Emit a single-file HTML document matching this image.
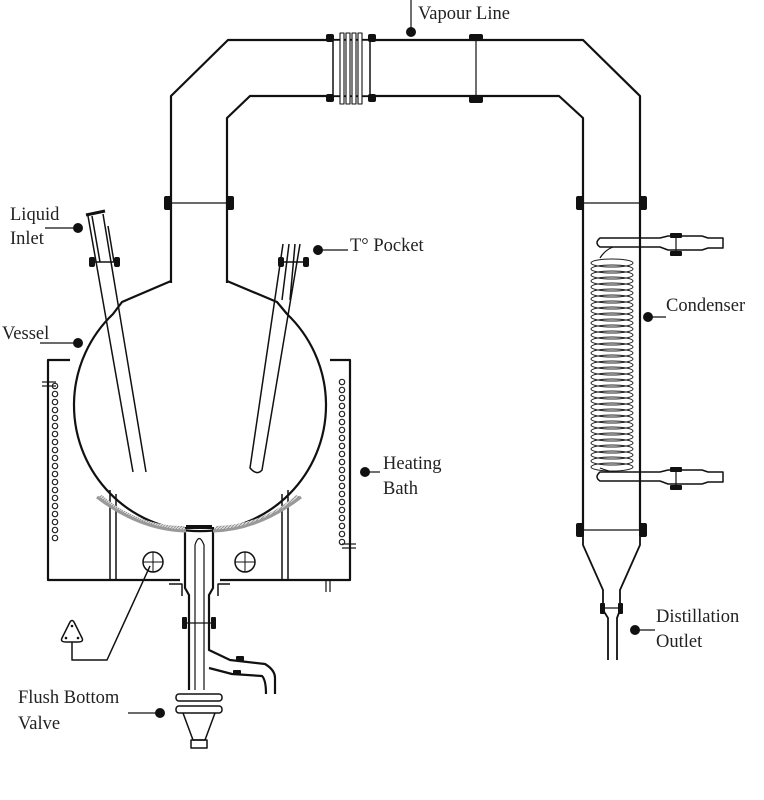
<!DOCTYPE html>
<html><head><meta charset="utf-8"><style>
html,body{margin:0;padding:0;background:#fff}
svg{display:block}
text{font-family:"Liberation Serif",serif;font-size:18.5px;fill:#222}
</style></head><body>
<svg width="764" height="800" viewBox="0 0 764 800" xmlns="http://www.w3.org/2000/svg">
<defs>
<pattern id="hatch" width="3" height="3" patternUnits="userSpaceOnUse"><rect width="3" height="3" fill="#ddd"/><path d="M0 3L3 0" stroke="#888" stroke-width="0.8"/></pattern>
</defs>
<g fill="none" stroke="#111" stroke-width="2.2" stroke-linejoin="round">
<path d="M171 283 V96 L228 40 H583 L640 96 V530"/>
<path d="M227 283 V118 L250 96 H559 L583 118 V530"/>
<line x1="171" y1="203" x2="227" y2="203" stroke-width="1.2"/>
<line x1="583" y1="203" x2="640" y2="203" stroke-width="1.2"/>
<line x1="476" y1="40" x2="476" y2="96" stroke-width="1.2"/>
<rect x="333" y="40" width="37" height="56" fill="#fff" stroke-width="1.5"/>
<g stroke-width="1.1" fill="#fff"><rect x="340" y="33" width="4" height="71"/><rect x="346" y="33" width="4" height="71"/><rect x="352" y="33" width="4" height="71"/><rect x="358" y="33" width="4" height="71"/></g>
<path d="M171 281 L122 302 L113 314 A126 126 0 1 0 287 314 L277 302 L227 281"/>
<g stroke-width="1.5">
<path d="M88 216 L133 472"/><path d="M103 214 L146 472"/>
<path d="M92 216 L100 262"/><path d="M108 226 L114 262"/>
<line x1="86" y1="215" x2="105" y2="211" stroke-width="3"/>
<line x1="92" y1="262" x2="117" y2="262"/>
<path d="M283 244 L250 468 Q257 476 262 470 L300 244"/>
<path d="M289 244 L282 300"/><path d="M295 244 L290 300"/>
<line x1="280" y1="262" x2="305" y2="262"/>
</g>
<path d="M70 360 H48 V580 H180"/>
<path d="M330 360 H350 V580 H220"/>
<line x1="42" y1="382" x2="56" y2="382" stroke-width="1.2"/>
<line x1="42" y1="386" x2="56" y2="386" stroke-width="1.2"/>
<line x1="342" y1="544" x2="356" y2="544" stroke-width="1.2"/>
<line x1="342" y1="548" x2="356" y2="548" stroke-width="1.2"/>
<line x1="110" y1="490" x2="110" y2="580" stroke-width="1.5"/><line x1="116" y1="494" x2="116" y2="580" stroke-width="1.5"/>
<line x1="282" y1="494" x2="282" y2="580" stroke-width="1.5"/><line x1="288" y1="490" x2="288" y2="580" stroke-width="1.5"/>
<path d="M169 584 H182 V596" stroke-width="1.5"/><path d="M230 584 H218 V596" stroke-width="1.5"/>
<path d="M326 580 V592 M330 580 V592" stroke-width="1.2"/>
<circle cx="153" cy="562" r="10" stroke-width="1.5"/><path d="M143 562H163M153 552V572" stroke-width="1"/>
<circle cx="245" cy="562" r="10" stroke-width="1.5"/><path d="M235 562H255M245 552V572" stroke-width="1"/>
<path d="M150 566 L107 660 H72 V642" stroke-width="1.5"/>
<path d="M62 638 Q60 642 66 642 H78 Q84 642 82 638 L74 622 Q72 619 70 622 Z" stroke-width="1.5"/>
<path d="M185 527 V588 L189 595 V690"/>
<path d="M213 527 V588 L209 595 V650 L230 660 L265 664 Q275 670 275 678 V694"/>
<path d="M209 668 L232 674 L262 676 Q266 680 266 694"/>
<path d="M195 690 V545 Q199 532 204 545 V690" stroke-width="1.2"/>
<line x1="185" y1="623" x2="213" y2="623" stroke-width="1.2"/>
<rect x="176" y="694" width="46" height="7" rx="3" stroke-width="1.5"/>
<rect x="176" y="706" width="46" height="7" rx="3" stroke-width="1.5"/>
<path d="M183 713 L193 740 H205 L215 713" stroke-width="1.5"/>
<rect x="191" y="740" width="16" height="8" stroke-width="1.5"/>
<path d="M583 530 V545 L603 590 V610 L608 618 V660 M640 530 V545 L620 590 V610 L617 618 V660" stroke-width="1.8"/>
<line x1="583" y1="530" x2="640" y2="530" stroke-width="1.2"/>
<line x1="603" y1="608" x2="620" y2="608" stroke-width="1.2"/>
<path d="M640 238 H660 L668 236 H702 L708 238 H723 V248 H708 L702 250 H668 L660 247 H600 Q594 243 600 238 H640" stroke-width="1.5"/>
<path d="M640 472 H660 L668 470 H702 L708 472 H723 V482 H708 L702 484 H668 L660 481 H600 Q594 477 600 472 H640" stroke-width="1.5"/>
<line x1="676" y1="234" x2="676" y2="252" stroke-width="1.2"/>
<line x1="676" y1="468" x2="676" y2="486" stroke-width="1.2"/>
<path d="M613 247 Q605 250 600 258 M613 472 Q605 470 600 468" stroke-width="1.2"/>
</g>
<path d="M97 497 A126 126 0 0 0 186 530 L184 526 A122 122 0 0 1 102 495 Z" fill="url(#hatch)"/>
<path d="M301 497 A126 126 0 0 1 214 530 L216 526 A122 122 0 0 0 296 495 Z" fill="url(#hatch)"/>
<path d="M97 497 Q140 530 186 531" fill="none" stroke="#999" stroke-width="3"/>
<path d="M301 497 Q258 530 213 531" fill="none" stroke="#999" stroke-width="3"/>
<g fill="none" stroke="#222" stroke-width="1.2">
<circle cx="55" cy="386" r="2.7"/><circle cx="55" cy="394" r="2.7"/><circle cx="55" cy="402" r="2.7"/><circle cx="55" cy="410" r="2.7"/><circle cx="55" cy="418" r="2.7"/><circle cx="55" cy="426" r="2.7"/><circle cx="55" cy="434" r="2.7"/><circle cx="55" cy="442" r="2.7"/><circle cx="55" cy="450" r="2.7"/><circle cx="55" cy="458" r="2.7"/><circle cx="55" cy="466" r="2.7"/><circle cx="55" cy="474" r="2.7"/><circle cx="55" cy="482" r="2.7"/><circle cx="55" cy="490" r="2.7"/><circle cx="55" cy="498" r="2.7"/><circle cx="55" cy="506" r="2.7"/><circle cx="55" cy="514" r="2.7"/><circle cx="55" cy="522" r="2.7"/><circle cx="55" cy="530" r="2.7"/><circle cx="55" cy="538" r="2.7"/>
<circle cx="342" cy="382" r="2.7"/><circle cx="342" cy="390" r="2.7"/><circle cx="342" cy="398" r="2.7"/><circle cx="342" cy="406" r="2.7"/><circle cx="342" cy="414" r="2.7"/><circle cx="342" cy="422" r="2.7"/><circle cx="342" cy="430" r="2.7"/><circle cx="342" cy="438" r="2.7"/><circle cx="342" cy="446" r="2.7"/><circle cx="342" cy="454" r="2.7"/><circle cx="342" cy="462" r="2.7"/><circle cx="342" cy="470" r="2.7"/><circle cx="342" cy="478" r="2.7"/><circle cx="342" cy="486" r="2.7"/><circle cx="342" cy="494" r="2.7"/><circle cx="342" cy="502" r="2.7"/><circle cx="342" cy="510" r="2.7"/><circle cx="342" cy="518" r="2.7"/><circle cx="342" cy="526" r="2.7"/><circle cx="342" cy="534" r="2.7"/><circle cx="342" cy="542" r="2.7"/>
</g>
<g fill="none" stroke="#222" stroke-width="1">
<ellipse cx="612" cy="263" rx="21" ry="4"/><ellipse cx="612" cy="269" rx="21" ry="4"/><ellipse cx="612" cy="275" rx="21" ry="4"/><ellipse cx="612" cy="281" rx="21" ry="4"/><ellipse cx="612" cy="287" rx="21" ry="4"/><ellipse cx="612" cy="293" rx="21" ry="4"/><ellipse cx="612" cy="299" rx="21" ry="4"/><ellipse cx="612" cy="305" rx="21" ry="4"/><ellipse cx="612" cy="311" rx="21" ry="4"/><ellipse cx="612" cy="317" rx="21" ry="4"/><ellipse cx="612" cy="323" rx="21" ry="4"/><ellipse cx="612" cy="329" rx="21" ry="4"/><ellipse cx="612" cy="335" rx="21" ry="4"/><ellipse cx="612" cy="341" rx="21" ry="4"/><ellipse cx="612" cy="347" rx="21" ry="4"/><ellipse cx="612" cy="353" rx="21" ry="4"/><ellipse cx="612" cy="359" rx="21" ry="4"/><ellipse cx="612" cy="365" rx="21" ry="4"/><ellipse cx="612" cy="371" rx="21" ry="4"/><ellipse cx="612" cy="377" rx="21" ry="4"/><ellipse cx="612" cy="383" rx="21" ry="4"/><ellipse cx="612" cy="389" rx="21" ry="4"/><ellipse cx="612" cy="395" rx="21" ry="4"/><ellipse cx="612" cy="401" rx="21" ry="4"/><ellipse cx="612" cy="407" rx="21" ry="4"/><ellipse cx="612" cy="413" rx="21" ry="4"/><ellipse cx="612" cy="419" rx="21" ry="4"/><ellipse cx="612" cy="425" rx="21" ry="4"/><ellipse cx="612" cy="431" rx="21" ry="4"/><ellipse cx="612" cy="437" rx="21" ry="4"/><ellipse cx="612" cy="443" rx="21" ry="4"/><ellipse cx="612" cy="449" rx="21" ry="4"/><ellipse cx="612" cy="455" rx="21" ry="4"/><ellipse cx="612" cy="461" rx="21" ry="4"/><ellipse cx="612" cy="467" rx="21" ry="4"/>
</g>
<g fill="#111">
<rect x="164" y="196" width="8" height="14" rx="2"/><rect x="226" y="196" width="8" height="14" rx="2"/>
<rect x="576" y="196" width="8" height="14" rx="2"/><rect x="639" y="196" width="8" height="14" rx="2"/>
<rect x="576" y="523" width="8" height="14" rx="2"/><rect x="639" y="523" width="8" height="14" rx="2"/>
<rect x="326" y="34" width="8" height="8" rx="2"/><rect x="326" y="94" width="8" height="8" rx="2"/>
<rect x="368" y="34" width="8" height="8" rx="2"/><rect x="368" y="94" width="8" height="8" rx="2"/>
<rect x="469" y="34" width="14" height="7" rx="2"/><rect x="469" y="96" width="14" height="7" rx="2"/>
<rect x="89" y="257" width="6" height="10" rx="2"/><rect x="114" y="257" width="6" height="10" rx="2"/>
<rect x="278" y="257" width="6" height="10" rx="2"/><rect x="303" y="257" width="6" height="10" rx="2"/>
<rect x="182" y="617" width="5" height="12" rx="1"/><rect x="211" y="617" width="5" height="12" rx="1"/>
<rect x="670" y="233" width="12" height="5" rx="1"/><rect x="670" y="251" width="12" height="5" rx="1"/>
<rect x="670" y="467" width="12" height="5" rx="1"/><rect x="670" y="485" width="12" height="5" rx="1"/>
<rect x="600" y="603" width="5" height="11" rx="1"/><rect x="618" y="603" width="5" height="11" rx="1"/>
<rect x="186" y="525" width="26" height="4"/>
<rect x="236" y="656" width="8" height="5" rx="1"/><rect x="233" y="670" width="8" height="5" rx="1"/>
<circle cx="411" cy="32" r="5"/><circle cx="78" cy="228" r="5"/><circle cx="318" cy="250" r="5"/>
<circle cx="78" cy="343" r="5"/><circle cx="365" cy="472" r="5"/><circle cx="648" cy="317" r="5"/>
<circle cx="635" cy="630" r="5"/><circle cx="160" cy="713" r="5"/>
<circle cx="66" cy="638" r="1.3"/><circle cx="78" cy="638" r="1.3"/><circle cx="72" cy="626" r="1.3"/>
</g>
<g stroke="#111" stroke-width="1.2">
<line x1="411" y1="0" x2="411" y2="32"/><line x1="45" y1="228" x2="78" y2="228"/>
<line x1="318" y1="250" x2="348" y2="250"/><line x1="40" y1="343" x2="78" y2="343"/>
<line x1="365" y1="472" x2="380" y2="472"/><line x1="648" y1="317" x2="666" y2="317"/>
<line x1="635" y1="630" x2="655" y2="630"/><line x1="128" y1="713" x2="160" y2="713"/>
</g>
<text x="418" y="19">Vapour Line</text>
<text x="10" y="220">Liquid</text><text x="10" y="244">Inlet</text>
<text x="350" y="251">T° Pocket</text>
<text x="2" y="339">Vessel</text>
<text x="383" y="469">Heating</text><text x="383" y="494">Bath</text>
<text x="666" y="311">Condenser</text>
<text x="656" y="622">Distillation</text><text x="656" y="647">Outlet</text>
<text x="18" y="703">Flush Bottom</text><text x="18" y="729">Valve</text>
</svg>
</body></html>
